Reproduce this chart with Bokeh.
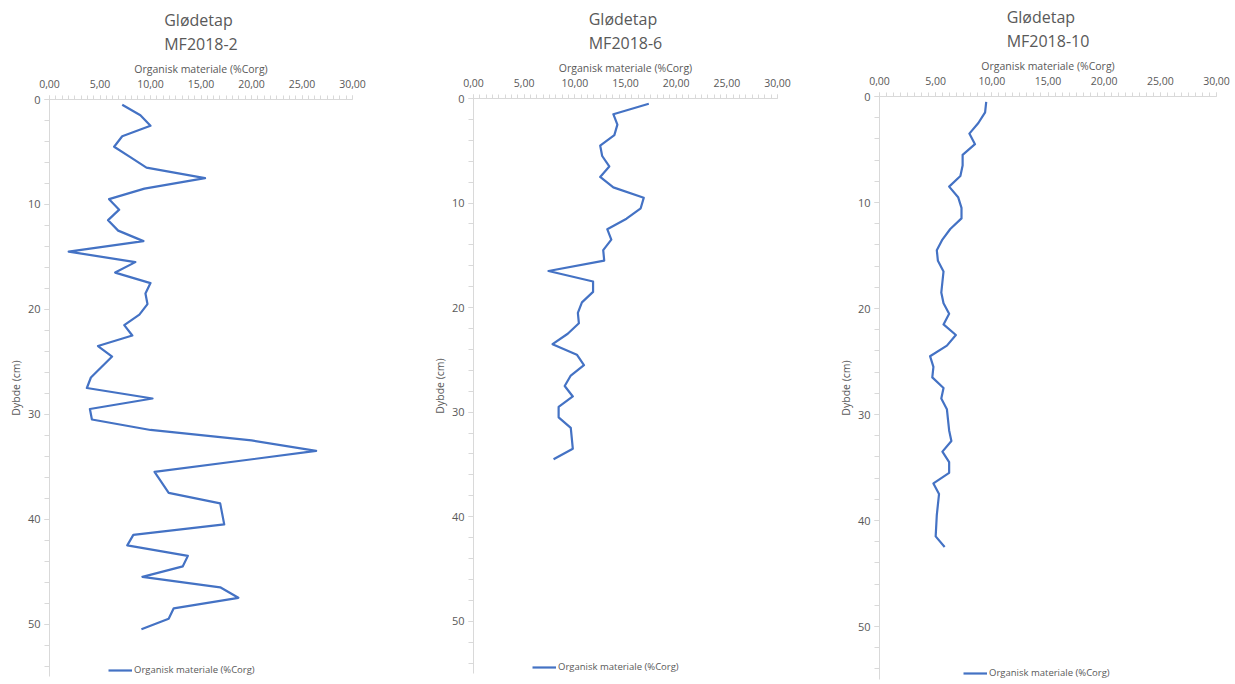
from bokeh.plotting import figure
from bokeh.layouts import row
from bokeh.models import (Range1d, CustomJSTickFormatter, Legend, LegendItem,
                          SingleIntervalTicker, ColumnDataSource)
from bokeh.embed import file_html
from bokeh.resources import INLINE

# ---------------- data ----------------
titles = ["Glødetap\nMF2018-2", "Glødetap\nMF2018-6", "Glødetap\nMF2018-10"]
series_name = "Organisk materiale (%Corg)"

depth_mf2 = [0.5, 1.5, 2.5, 3.5, 4.5, 5.5, 6.5, 7.5, 8.5, 9.5, 10.5, 11.5, 12.5,
             13.5, 14.5, 15.5, 16.5, 17.5, 18.5, 19.5, 20.5, 21.5, 22.5, 23.5,
             24.5, 26.5, 27.5, 28.5, 29.5, 30.5, 31.5, 32.5, 33.5, 35.5, 37.5,
             38.5, 40.5, 41.5, 42.5, 43.5, 44.5, 45.5, 46.5, 47.5, 48.5, 49.5, 50.5]
corg_mf2 = [7.2, 9.0, 10.0, 7.2, 6.4, 8.0, 9.6, 15.4, 9.4, 5.9, 6.9, 5.8, 6.8,
            9.3, 1.9, 8.5, 6.5, 10.0, 9.5, 9.7, 8.9, 7.4, 8.2, 4.8,
            6.2, 4.1, 3.7, 10.2, 4.0, 4.2, 10.0, 20.0, 26.4, 10.4, 11.8,
            16.9, 17.3, 8.3, 7.7, 13.7, 13.2, 9.2, 16.9, 18.7, 12.3, 11.8, 9.1]

depth_mf6 = [0.5, 1.5, 2.5, 3.5, 4.5, 5.5, 6.5, 7.5, 8.5, 9.5, 10.5, 11.5, 12.5,
             13.5, 14.5, 15.5, 16.5, 17.5, 18.5, 19.5, 20.5, 21.5, 22.5, 23.5,
             24.5, 25.5, 26.5, 27.5, 28.5, 29.5, 30.5, 31.5, 33.5, 34.5]
corg_mf6 = [17.3, 13.8, 14.2, 13.9, 12.5, 12.7, 13.4, 12.5, 13.8, 16.8, 16.5, 15.1, 13.2,
            13.6, 12.8, 12.9, 7.4, 11.8, 11.8, 10.7, 10.3, 10.4, 9.3, 7.8,
            10.2, 10.9, 9.6, 9.0, 9.8, 8.4, 8.4, 9.6, 9.8, 7.9]

depth_mf10 = [0.5, 1.5, 2.5, 3.5, 4.5, 5.5, 6.5, 7.5, 8.5, 9.5, 10.5, 11.5, 12.5,
              13.5, 14.5, 15.5, 16.5, 17.5, 18.5, 19.5, 20.5, 21.5, 22.5, 23.5,
              24.5, 25.5, 26.5, 27.5, 28.5, 29.5, 30.5, 31.5, 32.5, 33.5, 34.5,
              35.5, 36.5, 37.5, 39.5, 41.5, 42.5]
corg_mf10 = [9.5, 9.4, 8.8, 8.0, 8.5, 7.4, 7.4, 7.2, 6.2, 7.0, 7.3, 7.3, 6.3,
             5.6, 5.1, 5.2, 5.7, 5.6, 5.5, 5.7, 6.2, 5.7, 6.8, 6.0,
             4.5, 4.8, 4.7, 5.7, 5.5, 6.0, 6.1, 6.2, 6.4, 5.6, 6.2,
             6.2, 4.8, 5.3, 5.1, 5.0, 5.8]

# ---------------- style ----------------
FONT = "Open Sans"
TXT = "#595959"
AXC = "#d9d9d9"
LINE = "#4472C4"

fmt = CustomJSTickFormatter(code="return tick.toFixed(2).replace('.', ',');")


def make(title, depth, corg, bl, fw, br, bt, fh, leg_x, top_shift):
    p = figure(frame_width=fw, frame_height=fh,
               x_range=Range1d(0, 30), y_range=Range1d(55, 0),
               x_axis_location="above", output_backend="svg",
               toolbar_location=None,
               min_border_left=bl, min_border_right=br,
               min_border_top=bt, min_border_bottom=2,
               margin=(-top_shift, 0, top_shift, 0))
    p.outline_line_color = None
    p.grid.visible = False
    p.background_fill_color = "white"
    p.border_fill_color = "white"

    p.title.text = title
    p.title.align = "center"
    p.title.text_font = FONT
    p.title.text_font_size = "16px"
    p.title.text_font_style = "normal"
    p.title.text_color = TXT
    p.title.text_line_height = 1.1
    p.title.standoff = 7

    xa = p.xaxis[0]
    xa.ticker = SingleIntervalTicker(interval=5, num_minor_ticks=8)
    xa.formatter = fmt
    xa.axis_label = series_name
    xa.axis_label_text_font = FONT
    xa.axis_label_text_font_size = "10.5px"
    xa.axis_label_text_font_style = "normal"
    xa.axis_label_text_color = TXT
    xa.axis_label_standoff = 1
    xa.major_label_text_font = FONT
    xa.major_label_text_font_size = "10.5px"
    xa.major_label_text_color = TXT
    xa.major_label_standoff = 8
    xa.axis_line_color = AXC
    xa.major_tick_line_color = AXC
    xa.minor_tick_line_color = AXC
    xa.major_tick_in = 0
    xa.major_tick_out = 4
    xa.minor_tick_in = 0
    xa.minor_tick_out = 4

    ya = p.yaxis[0]
    ya.ticker = SingleIntervalTicker(interval=10, num_minor_ticks=5)
    ya.axis_label = "Dybde (cm)"
    ya.axis_label_text_font = FONT
    ya.axis_label_text_font_size = "10.5px"
    ya.axis_label_text_font_style = "normal"
    ya.axis_label_text_color = TXT
    ya.axis_label_standoff = 2
    ya.major_label_text_font = FONT
    ya.major_label_text_font_size = "11px"
    ya.major_label_text_color = TXT
    ya.major_label_standoff = 4
    ya.axis_line_color = AXC
    ya.major_tick_line_color = AXC
    ya.minor_tick_line_color = AXC
    ya.major_tick_in = 0
    ya.major_tick_out = 5
    ya.minor_tick_in = 0
    ya.minor_tick_out = 5

    src = ColumnDataSource(dict(x=corg, y=depth))
    r = p.line("x", "y", source=src, line_color=LINE, line_width=2.2,
               line_join="round")

    leg = Legend(items=[LegendItem(label=series_name, renderers=[r])],
                 location=(leg_x, 0), orientation="horizontal",
                 background_fill_alpha=0, border_line_alpha=0,
                 label_text_font=FONT, label_text_font_size="9.5px",
                 label_text_color=TXT, glyph_width=24, glyph_height=10,
                 label_standoff=2, padding=0, margin=0)
    p.add_layout(leg)
    return p


p1 = make(titles[0], depth_mf2, corg_mf2, 49, 303, 68, 99, 577, 59, 0)
p2 = make(titles[1], depth_mf6, corg_mf6, 53, 304, 58, 99, 575, 59, 1)
p3 = make(titles[2], depth_mf10, corg_mf10, 41, 337, 14, 99, 583, 84, 3)

layout = row(p1, p2, p3)

open("out.html", "w").write(file_html(layout, INLINE))
